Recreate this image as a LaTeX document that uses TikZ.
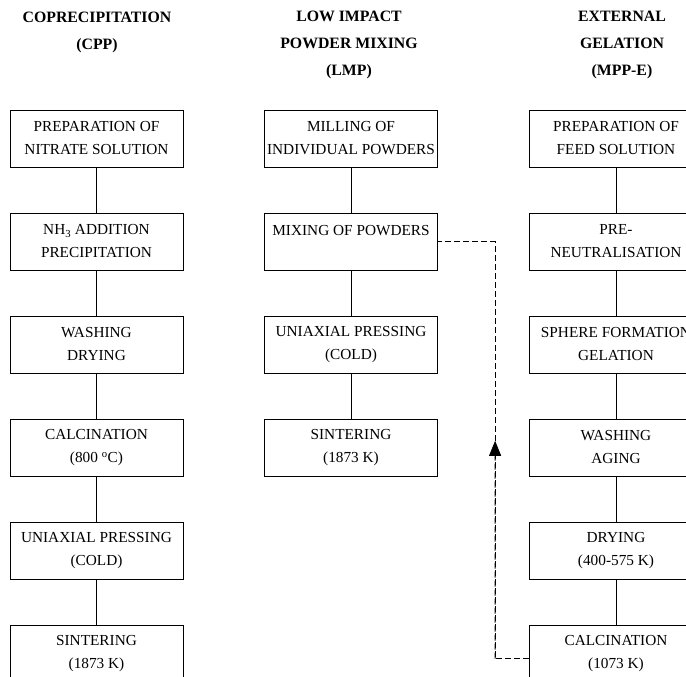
\documentclass[tikz,border=0pt]{standalone}
\usepackage{fontspec}
\setmainfont{Liberation Serif}
\usetikzlibrary{arrows.meta}
\usetikzlibrary{calc}

\begin{document}
\begin{tikzpicture}[x=1pt,y=-1pt,
	box/.style={draw,line width=0.8pt,minimum width=173pt,minimum height=57pt,
		inner sep=0pt,align=center,font=\fontsize{15.3}{23}\selectfont},
	head/.style={align=center,font=\fontsize{15.8}{27}\selectfont\bfseries},
	link/.style={line width=0.8pt},
	recycle/.style={line width=0.8pt,dash pattern=on 6pt off 3pt}]
	\clip (0,0) rectangle (686,677);
	% headings
	\node[head] (hc) at (97,32) {COPRECIPITATION\\(CPP)};
	\node[head] (hl) at (349,45) {LOW IMPACT\\POWDER MIXING\\(LMP)};
	\node[head] (he) at (622,45) {EXTERNAL\\GELATION\\(MPP-E)};
	% coprecipitation
	\node[box] (c1) at (96.5,138.5) {PREPARATION OF\\NITRATE SOLUTION};
	\node[box] (c2) at (96.5,241.5) {NH\textsubscript{3} ADDITION\\PRECIPITATION};
	\node[box] (c3) at (96.5,344.5) {WASHING\\DRYING};
	\node[box] (c4) at (96.5,447.5) {CALCINATION\\(800 \textsuperscript{o}C)};
	\node[box] (c5) at (96.5,550.5) {UNIAXIAL PRESSING\\(COLD)};
	\node[box] (c6) at (96.5,653.5) {SINTERING\\(1873 K)};
	% low impact mixing
	\node[box] (l1) at (351,138.5) {MILLING OF\\INDIVIDUAL POWDERS};
	\node[box] (l2) at (351,241.5) {MIXING OF POWDERS\\\mbox{}};
	\node[box] (l3) at (351,344.5) {UNIAXIAL PRESSING\\(COLD)};
	\node[box] (l4) at (351,447.5) {SINTERING\\(1873 K)};
	% external gelation
	\node[box] (e1) at (616,138.5) {PREPARATION OF\\FEED SOLUTION};
	\node[box] (e2) at (616,241.5) {PRE-\\NEUTRALISATION};
	\node[box] (e3) at (616,344.5) {SPHERE FORMATION\\GELATION};
	\node[box] (e4) at (616,447.5) {WASHING\\AGING};
	\node[box] (e5) at (616,550.5) {DRYING\\(400-575 K)};
	\node[box] (e6) at (616,653.5) {CALCINATION\\(1073 K)};
	\foreach \a/\b in {c1/c2,c2/c3,c3/c4,c4/c5,c5/c6,l1/l2,l2/l3,l3/l4,e1/e2,e2/e3,e3/e4,e4/e5,e5/e6}
		\draw[link] (\a) -- (\b);
	% calcined spheres back to mixing
	\coordinate (lo) at ($(e6.west)+(-34,5)$);
	\coordinate (hi) at (lo |- l2.east);
	\draw[recycle] ($(e6.west)+(0,5)$) -- (lo) -- (hi) -- (l2.east);
	\draw[recycle,-{Triangle[length=15pt,width=12pt]}] (lo) -- ($(lo)!0.522!(hi)$);
\end{tikzpicture}
\end{document}
